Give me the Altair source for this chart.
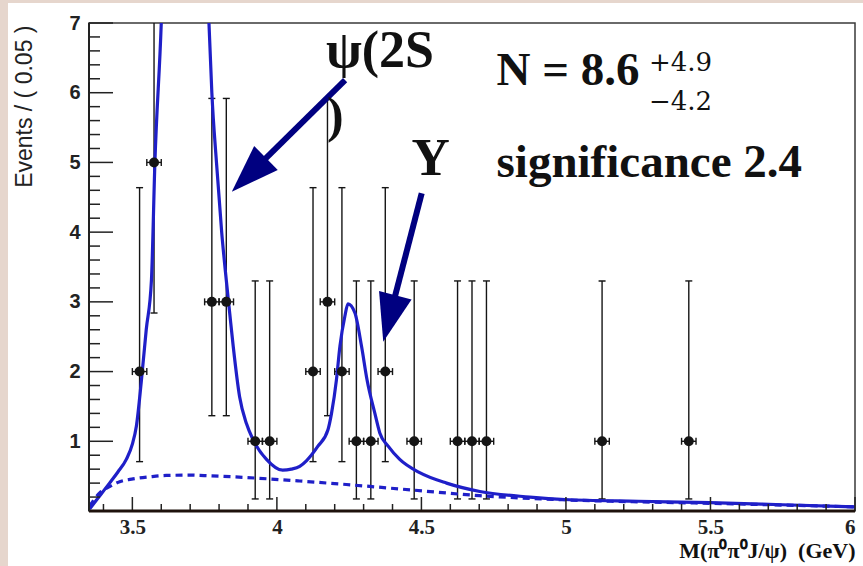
import math
import altair as alt
import pandas as pd

# ---------------------------------------------------------------- data
# Non-empty bins of M(pi0 pi0 J/psi), bin width 0.05 GeV
bin_center = [3.525, 3.575, 3.775, 3.825, 3.925, 3.975, 4.125, 4.175, 4.225,
              4.275, 4.325, 4.375, 4.475, 4.625, 4.675, 4.725, 5.125, 5.425]
counts = [2, 5, 3, 3, 1, 1, 2, 3, 2, 1, 1, 2, 1, 1, 1, 1, 1, 1]
# asymmetric Poisson error bars: lower and upper edges
err_low = [0.708, 2.840, 1.367, 1.367, 0.173, 0.173, 0.708, 1.367, 0.708,
           0.173, 0.173, 0.708, 0.173, 0.173, 0.173, 0.173, 0.173, 0.173]
err_high = [4.638, 8.382, 5.918, 5.918, 3.300, 3.300, 4.638, 5.918, 4.638,
            3.300, 3.300, 4.638, 3.300, 3.300, 3.300, 3.300, 3.300, 3.300]
half_bin = 0.025

# total fit (psi(2S) + Y + background), sampled along the mass axis
fit_x = [3.352, 3.380, 3.421, 3.450, 3.479, 3.500, 3.514, 3.531, 3.548, 3.566,
         3.578, 3.600, 3.615, 3.686, 3.750, 3.765, 3.775, 3.791, 3.809, 3.825,
         3.837, 3.849, 3.871, 3.895, 3.918, 3.964, 4.020, 4.050, 4.079, 4.102,
         4.142, 4.177, 4.189, 4.206, 4.218, 4.235, 4.246, 4.270, 4.293, 4.312,
         4.339, 4.356, 4.385, 4.425, 4.494, 4.587, 4.702, 4.875, 4.996, 5.250,
         5.498, 5.750, 6.000]
fit_y = [0.03, 0.18, 0.40, 0.56, 0.74, 0.96, 1.22, 1.86, 2.60, 3.31,
         5.00, 7.00, 9.00, 20.0, 9.00, 7.00, 6.00, 5.00, 4.00, 3.31,
         2.83, 2.36, 1.64, 1.25, 1.02, 0.74, 0.585, 0.60, 0.64, 0.72,
         0.93, 1.17, 1.40, 1.88, 2.36, 2.79, 2.97, 2.84, 2.36, 1.88,
         1.40, 1.12, 0.93, 0.74, 0.55, 0.40, 0.28, 0.20, 0.165, 0.14,
         0.12, 0.09, 0.06]

# background component of the fit
bkg_x = [3.352, 3.387, 3.421, 3.456, 3.502, 3.560, 3.617, 3.700, 3.733, 3.849,
         4.010, 4.079, 4.240, 4.471, 4.702, 5.000, 5.500, 6.000]
bkg_y = [0.07, 0.26, 0.35, 0.42, 0.46, 0.49, 0.51, 0.515, 0.51, 0.49,
         0.45, 0.43, 0.38, 0.30, 0.22, 0.16, 0.11, 0.06]

# axis ticks
x_major = [3.5, 4.0, 4.5, 5.0, 5.5, 6.0]
x_minor = [3.4, 3.6, 3.7, 3.8, 3.9, 4.1, 4.2, 4.3, 4.4, 4.6, 4.7, 4.8, 4.9,
           5.1, 5.2, 5.3, 5.4, 5.6, 5.7, 5.8, 5.9]
y_major = [1, 2, 3, 4, 5, 6, 7]
y_minor = [0.2, 0.4, 0.6, 0.8, 1.2, 1.4, 1.6, 1.8, 2.2, 2.4, 2.6, 2.8,
           3.2, 3.4, 3.6, 3.8, 4.2, 4.4, 4.6, 4.8, 5.2, 5.4, 5.6, 5.8,
           6.2, 6.4, 6.6, 6.8]

# arrows pointing at the two resonances (data coordinates)
arrow_start_x = [4.236, 4.501]
arrow_start_y = [6.182, 4.557]
arrow_tip_x = [3.844, 4.368]
arrow_tip_y = [4.580, 2.429]

# ---------------------------------------------------------------- layout
W, H = 766, 488
X_DOM = [3.35, 6.0]
Y_DOM = [0, 7]
INK = "#151515"
FIT_BLUE = "#1f1fc8"
NAVY = "#000080"
PAPER_EDGE = "#e6d6cd"
SERIF = "Liberation Serif"
SANS = "Liberation Sans"

xs = alt.Scale(domain=X_DOM, nice=False, zero=False)
ys = alt.Scale(domain=Y_DOM, nice=False, zero=False)

x_axis = alt.Axis(
    values=x_major, format="~g", ticks=False, domain=False, grid=False,
    labelFont=SERIF, labelFontWeight="bold", labelFontSize=21,
    labelColor="#222222", labelPadding=5, zindex=1,
    title="M(\u03c0\u2070\u03c0\u2070J/\u03c8)\u00a0\u00a0(GeV)",
    titleFont=SERIF, titleFontWeight="bold", titleFontSize=22,
    titleColor="#111111", titleAnchor="end", titleAlign="right",
    titleX=W, titleY=46, titleBaseline="alphabetic",
)
y_axis = alt.Axis(
    values=y_major, ticks=False, domain=False, grid=False,
    labelFont=SANS, labelFontWeight="bold", labelFontSize=20,
    labelColor="#222222", labelPadding=9, zindex=1,
    title="Events / ( 0.05 )", titleFont=SANS, titleFontWeight="normal",
    titleFontSize=23, titleColor="#222222", titleAngle=270,
    titleAlign="right", titleBaseline="alphabetic", titleX=-58, titleY=2,
)


# every layer shares the same scales and axis definitions
def X(field):
    return alt.X(field, type="quantitative", scale=xs, axis=x_axis)


def Y(field):
    return alt.Y(field, type="quantitative", scale=ys, axis=y_axis)


pts = pd.DataFrame({
    "x": bin_center, "n": counts, "lo": err_low, "hi": err_high,
})
pts["xl"] = pts["x"] - half_bin
pts["xh"] = pts["x"] + half_bin

ycaps = pd.DataFrame({
    "x": bin_center * 2,
    "y": err_low + err_high,
})
xcaps = pd.DataFrame({
    "x": list(pts["xl"]) + list(pts["xh"]),
    "y": counts * 2,
})

fit = pd.DataFrame({"x": fit_x, "y": fit_y})
bkg = pd.DataFrame({"x": bkg_x, "y": bkg_y})

px_x = W / (X_DOM[1] - X_DOM[0])
px_y = H / (Y_DOM[1] - Y_DOM[0])
arrows = pd.DataFrame({
    "x": arrow_start_x, "y": arrow_start_y,
    "x1": arrow_tip_x, "y1": arrow_tip_y,
})
arrows["xm"] = arrows["x"] + 0.75 * (arrows["x1"] - arrows["x"])
arrows["ym"] = arrows["y"] + 0.75 * (arrows["y1"] - arrows["y"])
arrows["angle"] = [
    (math.degrees(math.atan2((x1 - x0) * px_x, (y1 - y0) * px_y)) + 360) % 360
    for x0, y0, x1, y1 in zip(arrow_start_x, arrow_start_y,
                              arrow_tip_x, arrow_tip_y)
]

# data points with asymmetric error bars
vbars = alt.Chart(pts).mark_rule(color=INK, strokeWidth=1.4, clip=True).encode(
    x=X("x"), y=Y("lo"), y2="hi:Q",
)
hbars = alt.Chart(pts).mark_rule(color=INK, strokeWidth=1.4).encode(
    x=X("xl"), x2="xh:Q", y=Y("n"),
)
ycap_marks = alt.Chart(ycaps).mark_tick(
    orient="horizontal", size=7, thickness=1.4, color=INK, clip=True, opacity=1
).encode(x=X("x"), y=Y("y"))
xcap_marks = alt.Chart(xcaps).mark_tick(
    orient="vertical", size=7, thickness=1.4, color=INK, opacity=1
).encode(x=X("x"), y=Y("y"))
markers = alt.Chart(pts).mark_circle(size=100, color=INK, opacity=1).encode(
    x=X("x"), y=Y("n"),
)

bkg_line = alt.Chart(bkg).mark_line(
    color=FIT_BLUE, strokeWidth=3.2, strokeDash=[7, 5], interpolate="monotone",
    clip=True,
).encode(x=X("x"), y=Y("y"))
fit_line = alt.Chart(fit).mark_line(
    color=FIT_BLUE, strokeWidth=3.2, interpolate="monotone", clip=True,
).encode(x=X("x"), y=Y("y"))


# inward-pointing axis ticks
def x_ticks(vals, length):
    return alt.Chart(pd.DataFrame({"x": vals})).mark_rule(
        color="#222222", strokeWidth=1.5
    ).encode(x=X("x"), y=alt.value(H), y2=alt.value(H - length))


def y_ticks(vals, length):
    return alt.Chart(pd.DataFrame({"y": vals})).mark_rule(
        color="#222222", strokeWidth=1.5
    ).encode(y=Y("y"), x=alt.value(0), x2=alt.value(length))


one = pd.DataFrame({"k": [0]})
bottom_line = alt.Chart(one).mark_rule(color="#1e120c", strokeWidth=3).encode(
    x=alt.value(0), x2=alt.value(W), y=alt.value(H)
)
left_line = alt.Chart(one).mark_rule(color="#222222", strokeWidth=2).encode(
    x=alt.value(0), y=alt.value(0), y2=alt.value(H)
)
# tinted paper edges along the top and left of the canvas
edge_left = alt.Chart(one).mark_rect(color=PAPER_EDGE).encode(
    x=alt.value(-89), x2=alt.value(-81), y=alt.value(-23), y2=alt.value(H + 55)
)
edge_top = alt.Chart(one).mark_rect(color=PAPER_EDGE).encode(
    x=alt.value(-89), x2=alt.value(W + 8), y=alt.value(-23), y2=alt.value(-20)
)

arrow_shafts = alt.Chart(arrows).mark_rule(color=NAVY, strokeWidth=6).encode(
    x=X("x"), x2="xm:Q", y=Y("y"), y2="ym:Q",
)
arrow_heads = alt.Chart(arrows).mark_point(
    shape="M0,0 L0.7,2 L-0.7,2 Z", size=2304, filled=True, color=NAVY,
    opacity=1, strokeWidth=0,
).encode(
    x=X("x1"), y=Y("y1"), angle=alt.Angle("angle:Q", scale=None),
)


def label(text, x, y, size, weight="bold", font=SERIF):
    return alt.Chart(pd.DataFrame({"t": [text], "x": [x], "y": [y]})).mark_text(
        font=font, fontSize=size, fontWeight=weight, color="#111111",
        align="left", baseline="alphabetic",
    ).encode(x=X("x"), y=Y("y"), text="t:N")


texts = [
    label("\u03c8(2S", 4.170, 6.369, 52),
    label(")", 4.173, 5.436, 50),
    label("Y", 4.466, 4.820, 53),
    label("N = 8.6", 4.760, 6.111, 47),
    label("+4.9", 5.287, 6.311, 26, "normal", "DejaVu Serif"),
    label("\u22124.2", 5.287, 5.752, 26, "normal", "DejaVu Serif"),
    label("significance 2.4", 4.760, 4.795, 47),
]

chart = alt.layer(
    vbars, hbars, ycap_marks, xcap_marks, bkg_line, fit_line, markers,
    x_ticks(x_minor, 7), x_ticks(x_major, 14),
    y_ticks(y_minor, 11), y_ticks(y_major, 24),
    bottom_line, left_line, edge_left, edge_top,
    arrow_shafts, arrow_heads, *texts,
).properties(
    width=W, height=H,
    autosize=alt.AutoSizeParams(type="none"),
    padding={"left": 89, "top": 23, "right": 863 - 89 - W, "bottom": 566 - 23 - H},
    background="white",
).configure_view(stroke="#3a3a3a", strokeWidth=1.5)

chart.save("out.html", embed_options={"renderer": "svg", "actions": False})
